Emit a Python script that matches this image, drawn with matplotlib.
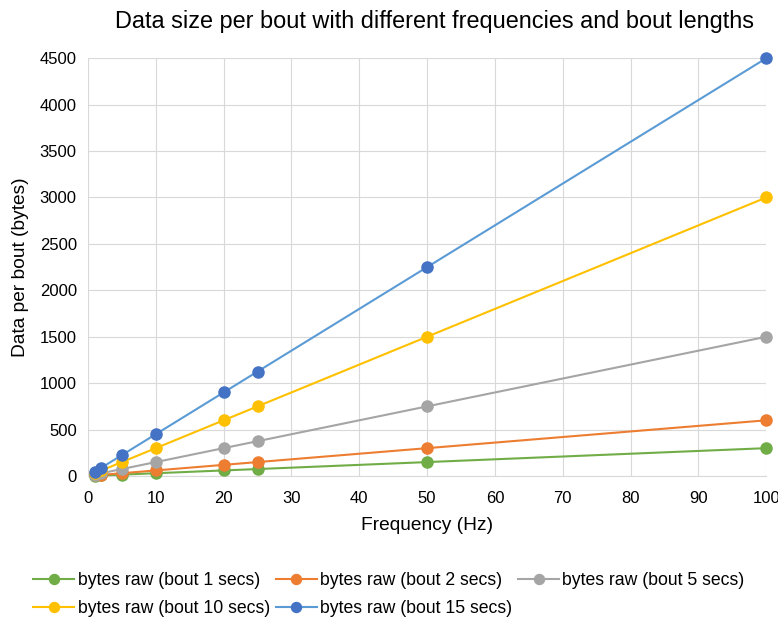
import matplotlib.pyplot as plt
import numpy as np

plt.rcParams['font.family'] = ['Liberation Sans', 'DejaVu Sans']

freq = [1, 2, 5, 10, 20, 25, 50, 100]
bout1 = [3, 6, 15, 30, 60, 75, 150, 300]
bout2 = [6, 12, 30, 60, 120, 150, 300, 600]
bout5 = [15, 30, 75, 150, 300, 375, 750, 1500]
bout10 = [30, 60, 150, 300, 600, 750, 1500, 3000]
bout15 = [45, 90, 225, 450, 900, 1125, 2250, 4500]

labels = ['bytes raw (bout 1 secs)', 'bytes raw (bout 2 secs)', 'bytes raw (bout 5 secs)',
          'bytes raw (bout 10 secs)', 'bytes raw (bout 15 secs)']
series = [bout1, bout2, bout5, bout10, bout15]
line_cols = ['#70AD47', '#ED7D31', '#A5A5A5', '#FFC000', '#5B9BD5']
mark_cols = ['#70AD47', '#ED7D31', '#A5A5A5', '#FFC000', '#4472C4']

fig = plt.figure(figsize=(7.78, 6.19), dpi=100)
ax = fig.add_axes([0.113, 0.231, 0.872, 0.675])

handles = []
for ys, lab, lc, mc in zip(series, labels, line_cols, mark_cols):
    h, = ax.plot(freq, ys, color=lc, lw=1.5, marker='o', markersize=8,
                 markerfacecolor=mc, markeredgecolor=mc, label=lab, clip_on=False, zorder=3)
    handles.append(h)

ax.set_xlim(0, 100)
ax.set_ylim(0, 4500)
ax.set_xticks(np.arange(0, 101, 10))
ax.set_yticks(np.arange(0, 4501, 500))
ax.grid(True, color='#D9D9D9', lw=0.8)
ax.set_axisbelow(True)
for s in ['top', 'right', 'left']:
    ax.spines[s].set_visible(False)
ax.spines['bottom'].set_color('#D9D9D9')
ax.tick_params(length=0, labelsize=12, colors='#000000')
ax.tick_params(axis='x', pad=11)
ax.tick_params(axis='y', pad=8)

ax.set_xlabel('Frequency (Hz)', fontsize=13.8, labelpad=8)
ax.set_ylabel('Data per bout (bytes)', fontsize=13.8, labelpad=8)
fig.text(0.559, 0.966, 'Data size per bout with different frequencies and bout lengths',
         ha='center', va='center', fontsize=16.9)

order = [0, 3, 1, 4, 2]
fig.legend([handles[i] for i in order], [labels[i] for i in order],
           loc='upper left', bbox_to_anchor=(0.043, 0.076), ncol=3, frameon=False,
           fontsize=12.7, handlelength=2.3, columnspacing=0.35, handletextpad=0.2,
           labelspacing=0.65, borderaxespad=0, borderpad=0, markerscale=0.9)

fig.savefig('out.png', dpi=100)
